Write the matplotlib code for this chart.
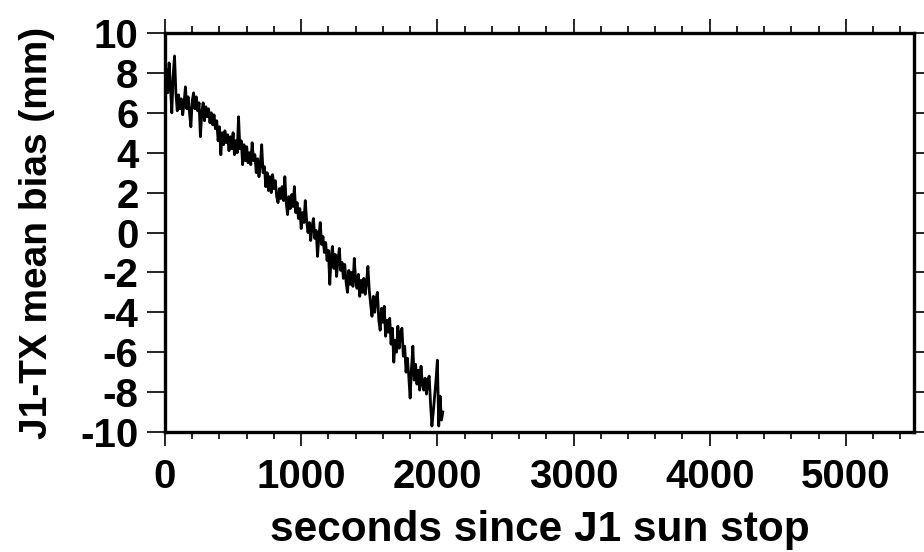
import numpy as np
import matplotlib
matplotlib.use("Agg")
import matplotlib.pyplot as plt
from matplotlib.ticker import MultipleLocator

# seconds since sun stop, sampled every 10 s
t = np.arange(0, 2041, 10)
# mean bias (mm), one row per 100 s
bias = [
    7.6, 8.2, 7.0, 8.5, 7.3, 6.0, 7.9, 8.85, 7.0, 6.1,
    6.9, 6.2, 6.7, 5.9, 6.5, 7.3, 6.2, 6.8, 6.0, 5.3,
    6.6, 7.0, 6.2, 6.8, 6.1, 6.5, 4.8, 6.0, 6.5, 5.6,
    6.3, 5.8, 6.2, 5.5, 6.0, 5.4, 5.9, 5.2, 5.6, 4.6,
    5.3, 3.9, 5.0, 4.4, 5.1, 4.5, 4.9, 4.1, 4.8, 4.2,
    5.0, 3.9, 4.6, 4.0, 5.8, 4.2, 4.6, 3.4, 4.4, 3.6,
    4.3, 3.5, 4.0, 3.4, 4.5, 3.6, 3.9, 3.0, 3.7, 2.8,
    3.4, 4.4, 3.0, 3.3, 2.3, 3.0, 2.1, 2.8, 2.0, 2.9,
    2.2, 2.6, 1.8, 1.5, 2.2, 1.7, 2.3, 1.6, 2.8, 1.5,
    0.9, 1.8, 1.2, 1.9, 1.3, 2.3, 1.0, 1.5, 0.7, 1.2,
    0.2, 1.0, 0.5, 1.6, 0.6, 0.0, 0.5, -0.4, 0.3, 0.7,
    -0.3, 0.1, -1.2, -0.2, 0.5, -0.6, -0.2, -1.0, -0.5, -1.4,
    -0.9, -2.6, -1.2, -0.7, -1.8, -1.1, -2.2, -1.4, -0.8, -1.9,
    -1.5, -2.3, -1.6, -2.5, -3.0, -1.9, -2.6, -2.0, -2.7, -1.3,
    -2.4, -2.8, -2.1, -3.2, -2.4, -3.0, -2.3, -3.1, -2.5, -1.7,
    -2.9, -3.6, -4.2, -3.2, -4.0, -3.3, -3.0, -4.4, -4.9, -3.8,
    -4.5, -3.7, -5.2, -4.4, -5.0, -4.3, -5.6, -4.8, -6.5, -5.4,
    -6.0, -4.7, -5.8, -5.0, -4.8, -6.2, -5.7, -7.0, -6.3, -7.2,
    -8.3, -6.8, -5.7, -7.4, -6.6, -7.6, -6.9, -7.9, -6.7, -7.6,
    -7.9, -7.3, -8.1, -7.4, -7.2, -8.6, -9.7, -9.0, -8.2, -7.4,
    -6.4, -9.7, -8.2, -9.4, -9.0,
]

plt.rcParams['font.family'] = ['Liberation Sans', 'DejaVu Sans']
plt.rcParams['font.weight'] = 'bold'
plt.rcParams['axes.unicode_minus'] = False

fig = plt.figure(figsize=(9.24, 5.52), dpi=100)
ax = fig.add_axes([165/924, 1-432/552, (914-165)/924, (432-33)/552])

ax.plot(t, bias, color='black', lw=2.0)

ax.set_xlim(0, 5500)
ax.set_ylim(-10, 10)
ax.xaxis.set_major_locator(MultipleLocator(1000))
ax.xaxis.set_minor_locator(MultipleLocator(200))
ax.yaxis.set_major_locator(MultipleLocator(2))

for s in ax.spines.values():
    s.set_linewidth(2.4)

ax.tick_params(axis='x', which='major', direction='out', length=10, width=1.2,
               top=True, bottom=True, labelsize=29, pad=9)
ax.tick_params(axis='x', which='minor', direction='out', length=5, width=1.2,
               top=True, bottom=True)
ax.tick_params(axis='y', which='major', direction='out', length=13, width=1.2,
               left=True, right=True, labelsize=29, pad=6)

ax.set_xlabel('seconds since J1 sun stop', fontsize=30.5, fontweight='bold', labelpad=10)
ax.set_ylabel('J1-TX mean bias (mm)', fontsize=28, fontweight='bold', labelpad=18)

fig.savefig('out.png', dpi=100)
